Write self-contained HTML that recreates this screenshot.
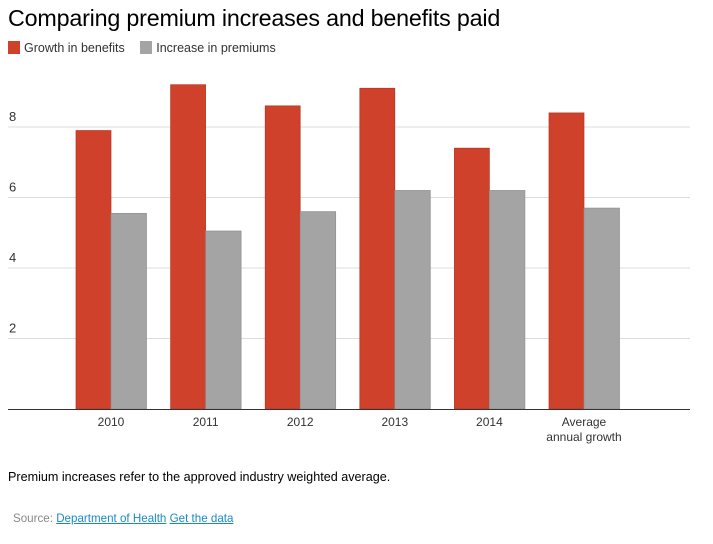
<!DOCTYPE html>
<html><head><meta charset="utf-8"><style>
body{margin:0;background:#fff;font-family:"Liberation Sans",Arial,sans-serif;}
#wrap{position:relative;width:713px;height:544px;overflow:hidden}
</style></head><body>
<div id="wrap">
<div style="position:absolute;left:8px;top:5px;font-size:23.3px;color:#000;letter-spacing:-0.2px">Comparing premium increases and benefits paid</div>
<div style="position:absolute;left:8px;top:41px;font-size:12.5px;color:#333">
 <span><span style="display:inline-block;width:12px;height:13px;background:#cf412a;vertical-align:-2px;margin-right:4px"></span>Growth in benefits</span>
 <span style="margin-left:12px"><span style="display:inline-block;width:12px;height:13px;background:#a4a4a4;vertical-align:-2px;margin-right:4px"></span>Increase in premiums</span>
</div>
<svg id="chart" width="713" height="460" style="position:absolute;left:0;top:0"></svg>
<div style="position:absolute;left:8px;top:470px;font-size:12.6px;color:#000">Premium increases refer to the approved industry weighted average.</div>
<div style="position:absolute;left:13px;top:512px;font-size:11.6px;color:#888">Source: <a style="color:#1a8ac6;text-decoration:underline">Department of Health</a> <a style="color:#1a8ac6;text-decoration:underline">Get the data</a></div>
</div>
<script>
const categories=["2010","2011","2012","2013","2014","Average|annual growth"];
const benefits=[7.9,9.2,8.6,9.1,7.4,8.4];
const premiums=[5.55,5.05,5.6,6.2,6.2,5.7];
const ticks=[2,4,6,8];
const svg=document.getElementById('chart');
const NS='http://www.w3.org/2000/svg';
const y0=409,pxPer=35.25;
const y=v=>y0-v*pxPer;
const gx=i=>111+i*94.6;
function mk(t,a){const e=document.createElementNS(NS,t);for(const k in a)e.setAttribute(k,a[k]);svg.appendChild(e);return e;}
ticks.forEach(t=>{
 const l=mk('line',{x1:8,x2:690,y1:y(t),y2:y(t),stroke:'#ddd','stroke-width':1});
 
 
 const tx=mk('text',{x:9,y:y(t)-6,'font-size':13,fill:'#333'});
 tx.textContent=t;
 
 
});
categories.forEach((c,i)=>{
 const cx=gx(i);
 const r=mk('rect',{x:cx-35,y:y(benefits[i]),width:35,height:benefits[i]*pxPer,fill:'#cf412a',stroke:'#b63522','stroke-width':0.7});
 
 
 const g=mk('rect',{x:cx,y:y(premiums[i]),width:35.5,height:premiums[i]*pxPer,fill:'#a4a4a4',stroke:'#8f8f8f','stroke-width':0.7});
 
 
 c.split('|').forEach((p,j)=>{
  const t=mk('text',{x:cx,y:426+j*15,'font-size':12,fill:'#333','text-anchor':'middle'});
  t.textContent=p;
  
  
 });
});
const ax=mk('line',{x1:8,x2:690,y1:y0+0.5,y2:y0+0.5,stroke:'#333','stroke-width':1});


</script>
</body></html>
